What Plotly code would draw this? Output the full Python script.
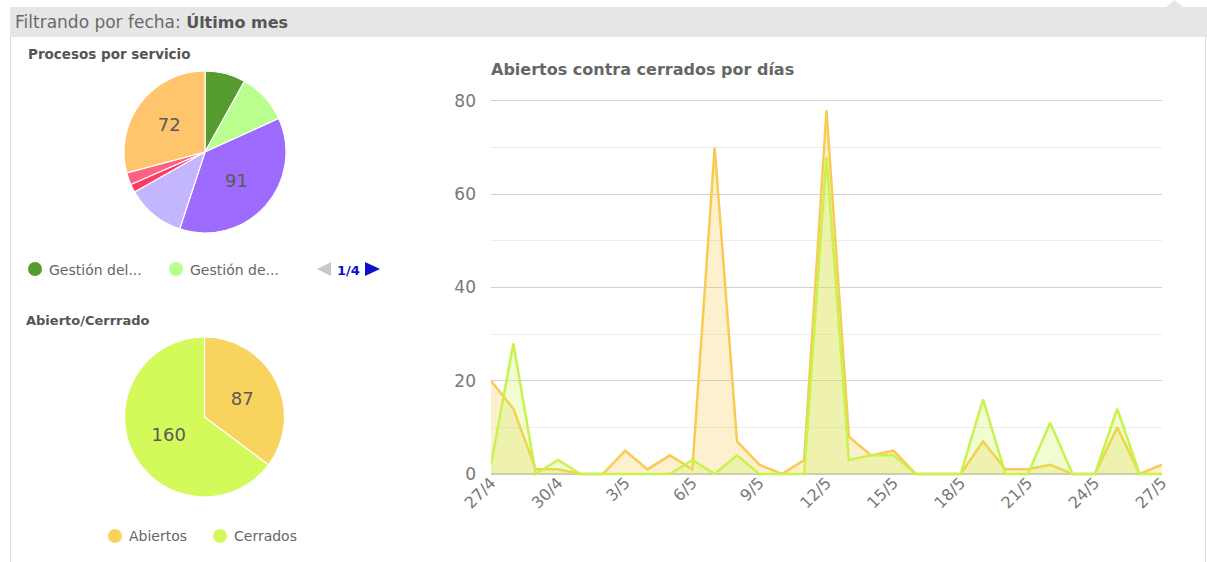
import plotly.graph_objects as go

W, H = 1207, 562

# ---------------- data ----------------
days = ["27/4", "28/4", "29/4", "30/4", "1/5", "2/5", "3/5", "4/5", "5/5", "6/5",
        "7/5", "8/5", "9/5", "10/5", "11/5", "12/5", "13/5", "14/5", "15/5", "16/5",
        "17/5", "18/5", "19/5", "20/5", "21/5", "22/5", "23/5", "24/5", "25/5", "26/5", "27/5"]
abiertos = [20, 14, 1, 1, 0, 0, 5, 1, 4, 1, 70, 7, 2, 0, 3, 78, 8, 4, 5, 0,
            0, 0, 7, 1, 1, 2, 0, 0, 10, 0, 2]
cerrados = [2, 28, 0, 3, 0, 0, 0, 0, 0, 3, 0, 4, 0, 0, 0, 68, 3, 4, 4, 0,
            0, 0, 16, 0, 0, 11, 0, 0, 14, 0, 0]

servicios = ["Gestión del servicio 1", "Gestión de servicio 2", "Servicio 3",
             "Servicio 4", "Servicio 5", "Servicio 6", "Servicio 7"]
servicios_short = ["Gestión del...", "Gestión de..."]
servicios_vals = [20, 25, 91, 29, 4, 6, 72]
servicios_colors = ["#559b2f", "#b9fe8e", "#9d6bfe", "#c3b6fe", "#fe3d64", "#fe6383", "#fec56d"]

estado_labels = ["Abiertos", "Cerrados"]
estado_vals = [87, 160]
estado_colors = ["#f8d35e", "#d3f95a"]

tick_idx = list(range(0, len(days), 3))

FONT = "DejaVu Sans"


def px(x):
    return x / W


def py(y):
    return 1 - y / H


fig = go.Figure()

# ---------------- line chart ----------------
fig.add_trace(go.Scatter(
    x=list(range(len(days))), y=abiertos, mode="lines", name="Abiertos",
    line=dict(color="#f8cb52", width=2.5), fill="tozeroy",
    fillcolor="rgba(247,201,75,0.27)", showlegend=False, hoverinfo="x+y"))
fig.add_trace(go.Scatter(
    x=list(range(len(days))), y=cerrados, mode="lines", name="Cerrados",
    line=dict(color="#c8f34c", width=2.5), fill="tozeroy",
    fillcolor="rgba(200,245,80,0.25)", showlegend=False, hoverinfo="x+y"))

# ---------------- pies ----------------
txt1 = [str(v) if v / sum(servicios_vals) > 0.2 else "" for v in servicios_vals]
fig.add_trace(go.Pie(
    labels=servicios, values=servicios_vals, sort=False, direction="clockwise",
    rotation=0, marker=dict(colors=servicios_colors, line=dict(color="white", width=1.2)),
    text=txt1, textinfo="text", textposition="inside", insidetextorientation="horizontal",
    insidetextfont=dict(family=FONT, size=18, color="#5a5a5a"),
    domain=dict(x=[px(124), px(286)], y=[py(233), py(71)]), showlegend=False,
    hoverinfo="label+value"))
fig.add_trace(go.Pie(
    labels=estado_labels, values=estado_vals, sort=False, direction="clockwise",
    rotation=0, marker=dict(colors=estado_colors, line=dict(color="white", width=1.2)),
    textinfo="value", textposition="inside", insidetextorientation="horizontal",
    insidetextfont=dict(family=FONT, size=18, color="#5a5a5a"),
    domain=dict(x=[px(124), px(285)], y=[py(497), py(337)]), showlegend=False,
    hoverinfo="label+value"))

# y mapping: 0 -> 474px, 80 -> 101px
ppu = (474 - 101) / 80.0
y_lo, y_hi = -0.5, 80.5
fig.update_layout(
    width=W, height=H, margin=dict(l=0, r=0, t=0, b=0, autoexpand=False),
    showlegend=False,
    paper_bgcolor="white", plot_bgcolor="white",
    font=dict(family=FONT, color="#666"),
    xaxis=dict(domain=[px(491), px(1162)], range=[0, 30], tickvals=tick_idx,
               ticktext=[days[i] for i in tick_idx], tickangle=-45,
               tickfont=dict(family=FONT, size=16, color="#777"),
               showgrid=False, zeroline=False, showline=False, ticks="",
               ticklabelstandoff=-7,
               fixedrange=True, automargin=False),
    yaxis=dict(domain=[py(474 + 0.5 * ppu), py(101 - 0.5 * ppu)], range=[y_lo, y_hi],
               tickvals=[0, 20, 40, 60, 80],
               tickfont=dict(family=FONT, size=17, color="#777"),
               showgrid=True, gridcolor="#d0d0d0", gridwidth=1,
               minor=dict(tickvals=[10, 30, 50, 70], showgrid=True, gridcolor="#ededed", gridwidth=1),
               zeroline=True, zerolinecolor="#c8c8c8", zerolinewidth=2,
               ticks="", ticklabelstandoff=14, fixedrange=True, automargin=False),
)

shapes = []
# header bar
shapes.append(dict(type="rect", xref="paper", yref="paper", x0=px(10), x1=1.0,
                   y0=py(37), y1=py(7), fillcolor="#e6e6e6", line=dict(width=0), layer="below"))
# notch
shapes.append(dict(type="path", xref="paper", yref="paper",
                   path=f"M {px(1166)},{py(7)} L {px(1174.5)},{py(0)} L {px(1183)},{py(7)} Z",
                   fillcolor="#e6e6e6", line=dict(width=0), layer="below"))
# panel borders
shapes.append(dict(type="line", xref="paper", yref="paper", x0=px(10.5), x1=px(10.5),
                   y0=0, y1=py(37), line=dict(color="#dcdcdc", width=1), layer="below"))
shapes.append(dict(type="line", xref="paper", yref="paper", x0=px(1205.5), x1=px(1205.5),
                   y0=0, y1=py(37), line=dict(color="#dcdcdc", width=1), layer="below"))


def circle(cx, cy, r, color):
    return dict(type="circle", xref="paper", yref="paper", x0=px(cx - r), x1=px(cx + r),
                y0=py(cy + r), y1=py(cy - r), fillcolor=color, line=dict(width=0))


shapes.append(circle(35, 269, 7, servicios_colors[0]))
shapes.append(circle(176, 269, 7, servicios_colors[1]))
shapes.append(circle(115, 536, 7, estado_colors[0]))
shapes.append(circle(220, 536, 7, estado_colors[1]))
# pager arrows
shapes.append(dict(type="path", xref="paper", yref="paper",
                   path=f"M {px(331)},{py(262)} L {px(317)},{py(269)} L {px(331)},{py(276)} Z",
                   fillcolor="#c8c8c8", line=dict(width=0)))
shapes.append(dict(type="path", xref="paper", yref="paper",
                   path=f"M {px(365)},{py(262)} L {px(380)},{py(269)} L {px(365)},{py(276)} Z",
                   fillcolor="#1010c8", line=dict(width=0)))

ann = []


def text(x, y, s, size, color="#666", xanchor="left", bold=False):
    if bold:
        s = f"<b>{s}</b>"
    ann.append(dict(x=px(x), y=py(y), xref="paper", yref="paper", text=s, showarrow=False,
                    xanchor=xanchor, yanchor="middle",
                    font=dict(family=FONT, size=size, color=color)))


ann.append(dict(x=px(13), y=py(22), xref="paper", yref="paper", showarrow=False,
                xanchor="left", yanchor="middle",
                text="Filtrando por fecha: <span style='font-size:16px;color:#555'><b>Último mes</b></span>",
                font=dict(family=FONT, size=17, color="#6a6a6a")))
text(26, 54, "Procesos por servicio", 13.5, "#555", bold=True)
text(24, 320, "Abierto/Cerrrado", 13, "#555", bold=True)
text(489, 69, "Abiertos contra cerrados por días", 16, "#666", bold=True)
text(47, 270, servicios_short[0], 14, "#666")
text(188, 270, servicios_short[1], 14, "#666")
text(348, 270, "1/4", 13, "#1010c8", xanchor="center", bold=True)
text(127, 536, estado_labels[0], 14, "#666")
text(232, 536, estado_labels[1], 14, "#666")

fig.update_layout(shapes=shapes, annotations=ann)
fig.write_html("out.html", config={"displayModeBar": False},
               post_script="document.body.style.margin='0';document.body.style.padding='0';")
